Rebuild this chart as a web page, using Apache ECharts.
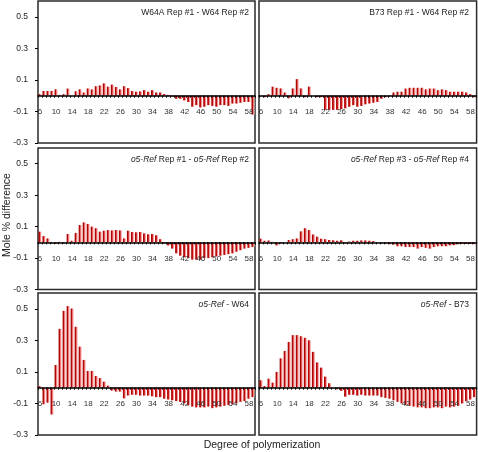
<!DOCTYPE html>
<html><head><meta charset="utf-8">
<script src="https://cdn.jsdelivr.net/npm/echarts@6/dist/echarts.min.js"></script>
<style>html,body{margin:0;padding:0;background:#fff}#c{width:478px;height:452px}</style>
</head><body><div id="c"></div>
<script>
const dp = [6,7,8,9,10,11,12,13,14,15,16,17,18,19,20,21,22,23,24,25,26,27,28,29,30,31,32,33,34,35,36,37,38,39,40,41,42,43,44,45,46,47,48,49,50,51,52,53,54,55,56,57,58,59];
const yTicks = [-0.3,-0.1,0.1,0.3,0.5];
const panelTitles = ['W64A Rep #1 - W64 Rep #2','B73 Rep #1 - W64 Rep #2','{i|o5-Ref} Rep #1 - {i|o5-Ref} Rep #2','{i|o5-Ref} Rep #3 - {i|o5-Ref} Rep #4','{i|o5-Ref} - W64','{i|o5-Ref} - B73'];
const p1 = [0.01,0.03,0.03,0.03,0.04,0.005,0.01,0.045,0.0,0.028, 0.04,0.02,0.046,0.04,0.06,0.065,0.078,0.057,0.07,0.055, 0.04,0.06,0.048,0.03,0.025,0.027,0.035,0.025,0.035,0.02, 0.02,0.01,0.005,-0.005,-0.02,-0.02,-0.03,-0.04,-0.07,-0.06, -0.075,-0.07,-0.06,-0.065,-0.07,-0.06,-0.06,-0.065,-0.05,-0.05, -0.045,-0.04,-0.04,-0.12];
const p2 = [-0.005,-0.01,0.01,0.057,0.05,0.046,0.02,-0.017,0.046,0.105, 0.046,-0.01,0.057,0.0,-0.01,-0.01,-0.09,-0.09,-0.09,-0.09, -0.085,-0.08,-0.07,-0.06,-0.07,-0.065,-0.055,-0.05,-0.045,-0.04, -0.02,-0.01,-0.005,0.02,0.025,0.025,0.045,0.05,0.05,0.05, 0.05,0.04,0.045,0.045,0.035,0.04,0.035,0.025,0.025,0.025, 0.025,0.02,0.01,-0.01];
const p3 = [0.068,0.04,0.025,-0.005,-0.01,0.003,-0.005,0.053,0.01,0.06, 0.11,0.127,0.117,0.1,0.09,0.068,0.074,0.078,0.076,0.078, 0.076,0.025,0.074,0.066,0.064,0.066,0.057,0.051,0.053,0.045, 0.02,-0.005,-0.02,-0.04,-0.07,-0.085,-0.095,-0.1,-0.11,-0.11, -0.11,-0.1,-0.1,-0.095,-0.09,-0.085,-0.08,-0.075,-0.07,-0.06, -0.05,-0.04,-0.035,-0.03];
const p4 = [0.023,0.01,0.012,0.003,-0.02,-0.005,0.0,0.015,0.02,0.025, 0.07,0.09,0.078,0.05,0.036,0.023,0.02,0.015,0.013,0.01, 0.013,-0.005,0.005,0.01,0.01,0.012,0.012,0.01,0.008,0.0, -0.005,-0.008,-0.012,-0.015,-0.025,-0.025,-0.03,-0.03,-0.03,-0.04, -0.03,-0.035,-0.04,-0.03,-0.025,-0.025,-0.025,-0.02,-0.018,-0.012, -0.01,-0.01,-0.01,-0.01];
const p5 = [0.01,-0.105,-0.095,-0.17,0.144,0.373,0.487,0.517,0.502,0.386, 0.26,0.176,0.106,0.106,0.074,0.061,0.038,0.013,-0.019,-0.025, -0.025,-0.068,-0.05,-0.045,-0.045,-0.05,-0.05,-0.05,-0.055,-0.06, -0.06,-0.07,-0.075,-0.08,-0.085,-0.09,-0.1,-0.11,-0.12,-0.125, -0.125,-0.125,-0.12,-0.13,-0.125,-0.12,-0.115,-0.11,-0.105,-0.1, -0.09,-0.085,-0.07,-0.06];
const p6 = [0.047,0.01,0.057,0.032,0.1,0.186,0.233,0.29,0.333,0.333, 0.326,0.316,0.3,0.227,0.16,0.127,0.07,0.028,0.003,-0.01, -0.02,-0.057,-0.045,-0.045,-0.05,-0.045,-0.05,-0.05,-0.05,-0.05, -0.06,-0.065,-0.07,-0.08,-0.09,-0.1,-0.11,-0.115,-0.12,-0.125, -0.125,-0.13,-0.13,-0.125,-0.125,-0.13,-0.12,-0.125,-0.12,-0.115, -0.1,-0.085,-0.075,-0.06];
const panels = [p1,p2,p3,p4,p5,p6];

const FONT = '"Liberation Sans", Arial, sans-serif';
const YMIN = -0.3, YMAX = 0.6;
const gridPos = [
  {left:38, top:1, width:217, height:142},
  {left:259, top:1, width:218, height:142},
  {left:38, top:148, width:217, height:141.5},
  {left:259, top:148, width:218, height:141.5},
  {left:38, top:293, width:217, height:142},
  {left:259, top:293, width:218, height:142}
];
const barColor = new echarts.graphic.LinearGradient(0,0,1,0,[
  {offset:0, color:'#9a0000'},{offset:0.45, color:'#c40a0a'},{offset:0.62, color:'#f07a7a'},{offset:1, color:'#ffc8c8'}]);

const grid=[], xAxis=[], yAxis=[], series=[], title=[];
panels.forEach((d,i)=>{
  const g = gridPos[i];
  const isLeft = i%2===0;
  const zeroOffset = -g.height * (0 - YMIN) / (YMAX - YMIN);
  grid.push(Object.assign({show:true, borderColor:'#2a2a2a', borderWidth:1.5, backgroundColor:'transparent'}, g));
  xAxis.push({type:'category', gridIndex:i, data:dp, z:3, position:'bottom', offset:zeroOffset,
    axisLine:{onZero:false, lineStyle:{color:'#000', width:1.5}},
    axisTick:{show:true, interval:0, length:2, lineStyle:{color:'#000'}},
    axisLabel:{interval:3, margin:12, fontSize:8, color:'#333', fontFamily:FONT},
    splitLine:{show:false}});
  yAxis.push({type:'value', gridIndex:i, min:YMIN, max:YMAX, interval:0.1,
    axisLine:{show:false},
    axisTick:{show:isLeft, customValues:yTicks, length:3, inside:false, lineStyle:{color:'#000'}},
    axisLabel:{show:isLeft, customValues:yTicks, fontSize:8.5, color:'#222', fontFamily:FONT, margin:10,
      formatter:v=>Number(v).toFixed(1)},
    splitLine:{show:false}});
  series.push({type:'bar', xAxisIndex:i, yAxisIndex:i, data:d, barCategoryGap:'25%',
    itemStyle:{color:barColor}, animation:false});
  title.push({text:panelTitles[i], right: isLeft ? 229 : 9, top: g.top+7, padding:0,
    textStyle:{fontSize:8.5, fontWeight:'normal', color:'#222', fontFamily:FONT,
      rich:{i:{fontStyle:'italic', fontSize:8.5, color:'#222', fontFamily:FONT}}}});
});

const chart = echarts.init(document.getElementById('c'), null, {renderer:'canvas'});
chart.setOption({
  animation:false,
  title, grid, xAxis, yAxis, series,
  graphic:[
    {type:'text', x:7, y:215, rotation:Math.PI/2, style:{text:'Mole % difference', font:'10.5px '+FONT, fill:'#222', align:'center', verticalAlign:'middle'}},
    {type:'text', x:262, y:445, style:{text:'Degree of polymerization', font:'10.5px '+FONT, fill:'#222', align:'center', verticalAlign:'middle'}}
  ]
});
</script></body></html>
